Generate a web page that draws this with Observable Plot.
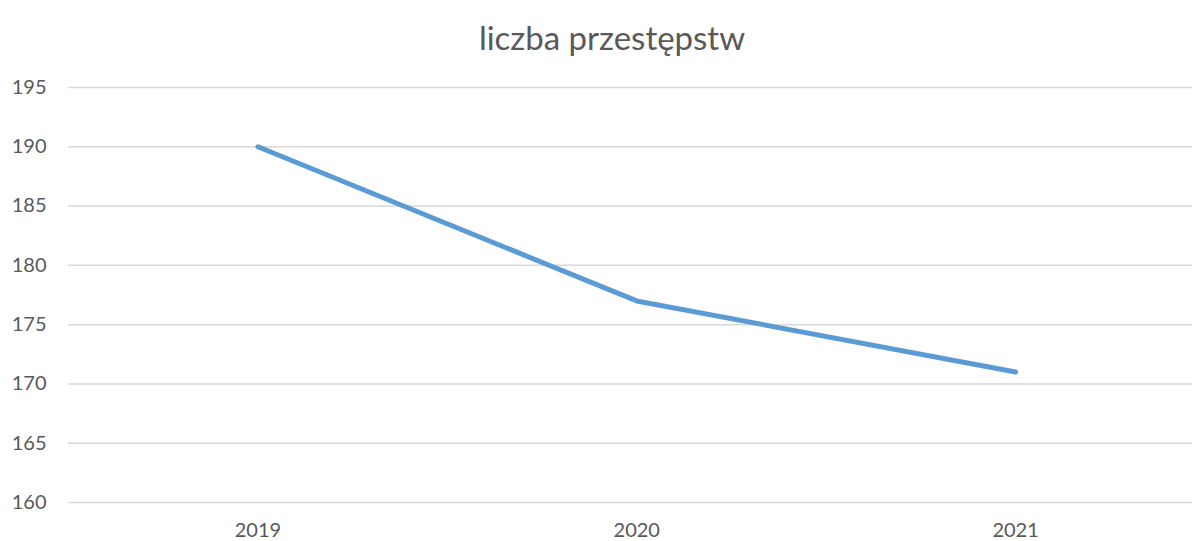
<!DOCTYPE html>
<html>
<head>
<meta charset="utf-8">
<script src="https://cdn.jsdelivr.net/npm/d3@7"></script>
<script src="https://cdn.jsdelivr.net/npm/@observablehq/plot@0.6"></script>
<style>
  html, body { margin: 0; padding: 0; background: #fff; }
  #title { height: 56px; padding-top: 2px; line-height: 70px; text-align: center; font-family: Lato, sans-serif; font-size: 33px; color: #595959; padding-left: 32px; box-sizing: border-box; overflow: visible; white-space: nowrap; }
  #chart svg { display: block; }
</style>
</head>
<body>
<div id="title">liczba przestępstw</div>
<div id="chart"></div>
<script>
const years = [2019, 2020, 2021];
const crimes = [190, 177, 171];
const yTicks = [160, 165, 170, 175, 180, 185, 190, 195];

const data = years.map((y, i) => ({year: y, value: crimes[i]}));

const chart = Plot.plot({
  width: 1192,
  height: 485,
  marginTop: 31,
  marginBottom: 39,
  marginLeft: 68,
  marginRight: 0,
  style: {fontFamily: "Lato, sans-serif", fontSize: "20px", color: "#595959", background: "#fff"},
  x: {domain: [2018.5, 2021.467], ticks: years, tickFormat: d => String(d), tickSize: 0, tickPadding: 22, label: null},
  y: {domain: [160, 195], ticks: yTicks, tickSize: 0, tickPadding: 22, label: null, grid: true},
  marks: [
    Plot.gridY(yTicks, {stroke: "#d9d9d9", strokeOpacity: 1, strokeWidth: 1.5}),
    Plot.axisX({ticks: years, tickFormat: d => String(d), tickSize: 0, tickPadding: 20, fill: "#595959", label: null}),
    Plot.axisY({ticks: yTicks, tickSize: 0, tickPadding: 22, fill: "#595959", label: null}),
    Plot.line(data, {x: "year", y: "value", stroke: "#5B9BD5", strokeWidth: 5, strokeLinecap: "round", strokeLinejoin: "round"})
  ]
});
document.getElementById("chart").appendChild(chart);
</script>
</body>
</html>
